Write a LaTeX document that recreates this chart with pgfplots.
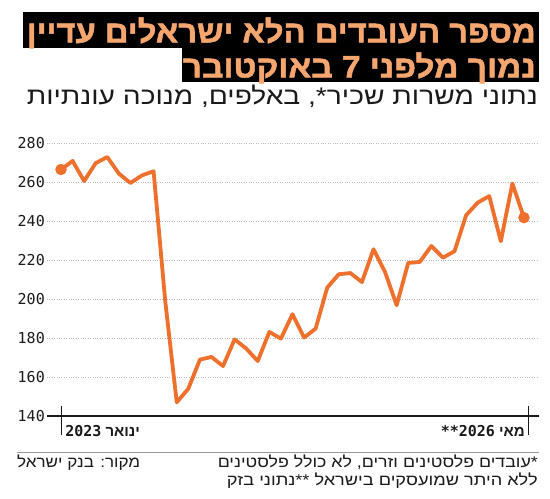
\documentclass[border=0pt]{standalone}
\usepackage{fontspec}
\usepackage{graphicx}
\usepackage{pgfplots}
\pgfplotsset{compat=1.18}
\TeXXeTstate=1
\setmainfont{Liberation Sans}
\newfontfamily\heb[Script=Hebrew]{Liberation Sans}
\newfontfamily\hebtitle[Script=Hebrew,FakeBold=1.6]{Liberation Sans Bold}
\newfontfamily\mono{DejaVu Sans Mono}
\definecolor{lineor}{HTML}{EE702D}
\definecolor{titleor}{HTML}{F5A56E}
\definecolor{gridc}{HTML}{B8B8B8}
\definecolor{txt}{HTML}{1A1A1A}

\pgfplotstableread{
i v
0 266.4
1 270.8
2 260.5
3 269.7
4 272.8
5 264.3
6 259.5
7 263.4
8 265.5
9 199.3
10 147
11 154
12 168.9
13 170.3
14 165.6
15 179.3
16 174.6
17 168.2
18 183.1
19 179.7
20 192.2
21 180.2
22 184.8
23 205.8
24 212.7
25 213.3
26 208.7
27 225.5
28 213.8
29 196.8
30 218.5
31 219
32 227.2
33 221.2
34 224.5
35 242.9
36 249.4
37 252.8
38 229.6
39 259.2
40 241.7
}\datatable

\begin{document}
\begin{tikzpicture}[x=1pt,y=1pt]
\path[fill=white,use as bounding box] (0,0) rectangle (550,499);
% title
\fill[black] (22.7,450.7) rectangle (539.3,487.3);
\fill[black] (181.7,417.3) rectangle (539.3,450.7);
\node[anchor=base east,inner sep=0,text=titleor] at (536,456.5) {\resizebox{509pt}{\height}{\fontsize{31}{32}\selectfont\hebtitle\beginR מספר העובדים הלא ישראלים עדיין\endR}};
\node[anchor=base east,inner sep=0,text=titleor] at (536,421.5) {\resizebox{353pt}{\height}{\fontsize{31}{32}\selectfont\hebtitle\beginR נמוך מלפני 7 באוקטובר\endR}};
\node[anchor=base east,inner sep=0,text=txt] at (538,394) {\resizebox{511pt}{\height}{\fontsize{24}{26}\selectfont\heb\beginR נתוני משרות שכיר*, באלפים, מנוכה עונתיות\endR}};
% footer
\draw[gray!80,line width=1pt] (17,46) -- (539,46);
\node[anchor=base east,inner sep=0,text=txt] at (538,31) {\resizebox{320pt}{\height}{\fontsize{15.5}{17}\selectfont\heb\beginR *עובדים פלסטינים וזרים, לא כולל פלסטינים\endR}};
\node[anchor=base east,inner sep=0,text=txt] at (538,13) {\resizebox{311pt}{\height}{\fontsize{15.5}{17}\selectfont\heb\beginR ללא היתר שמועסקים בישראל **נתוני בזק\endR}};
\node[anchor=base west,inner sep=0,text=txt] at (17,31) {\resizebox{123pt}{\height}{\fontsize{15.5}{17}\selectfont\heb\beginR מקור: בנק ישראל\endR}};
\begin{axis}[
  at={(47pt,83pt)}, anchor=south west, scale only axis,
  width=492pt, height=282.75pt,
  xmin=-1.21, xmax=41.3, ymin=140, ymax=285,
  axis line style={draw=none},
  clip=false,
  xtick=\empty,
  ytick={140,160,...,280},
  major tick length=0pt,
  ymajorgrids,
  grid style={gridc, dotted, line width=0.9pt},
  /pgf/number format/assume math mode=true,
  yticklabel style={font=\mono\fontsize{15}{15}\selectfont, text=txt, anchor=east, inner sep=0pt, xshift=-2pt},
]
\draw[txt,line width=1.4pt] (rel axis cs:0,0) -- (rel axis cs:1,0);
\draw[txt,line width=1pt] (axis cs:0,145.1) -- (axis cs:0,130.3);
\draw[txt,line width=1pt] (axis cs:40.43,145.1) -- (axis cs:40.43,130.3);
\node[anchor=base west,inner sep=0,text=txt] at (axis cs:0.35,129.7) {\fontsize{15}{15}\selectfont{\mono\bfseries 2023} {\heb\bfseries\beginR ינואר\endR}};
\node[anchor=base east,inner sep=0,text=txt] at (axis cs:40.09,129.7) {\fontsize{15}{15}\selectfont{\mono\bfseries **2026} {\heb\bfseries\beginR מאי\endR}};
\addplot[lineor, line width=3.8pt, line join=round, line cap=round] table[x=i,y=v] {\datatable};
\addplot[only marks, mark=*, mark size=5.5pt, lineor, mark options={fill=lineor, draw=lineor}] table[x=i,y=v, skip coords between index={1}{40}] {\datatable};
\end{axis}
\end{tikzpicture}
\end{document}
